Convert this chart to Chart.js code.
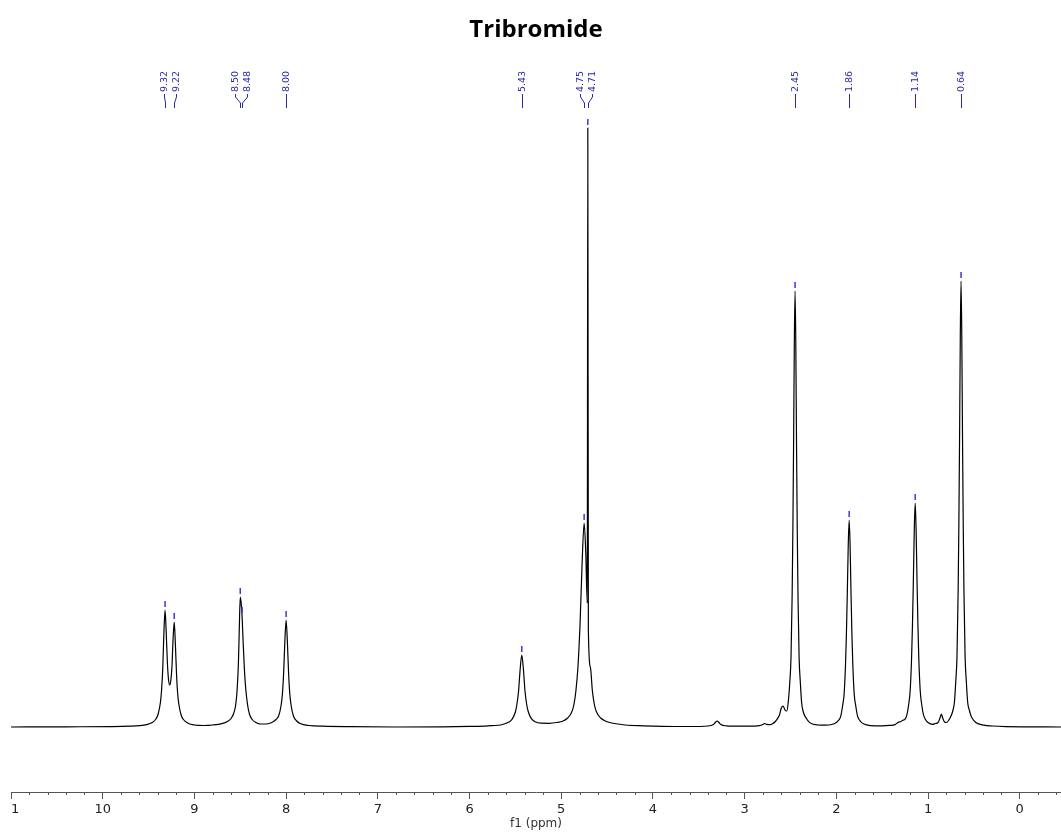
<!DOCTYPE html>
<html>
<head>
<meta charset="utf-8">
<title>Tribromide</title>
<script src="https://cdn.jsdelivr.net/npm/chart.js@4"></script>
<style>
  html, body { margin: 0; padding: 0; background: #fff; overflow: hidden; }
  #spectrum { position: absolute; left: 11px; top: 0; }
</style>
</head>
<body>
<canvas id="spectrum" width="1050" height="834"></canvas>
<script>
/* Spectrum trace: chemical shift (ppm) and intensity */
const shiftPpm = [
  11.0, 10.4, 9.9, 9.7, 9.6, 9.52, 9.46, 9.42, 9.395, 9.37, 9.358, 9.345, 9.333, 9.32, 9.308, 9.295, 9.283, 9.27, 9.258, 9.245, 9.233, 9.22, 9.208, 9.195, 9.183, 9.17, 9.145, 9.12, 9.07, 9.0, 8.9,
  8.8, 8.7, 8.64, 8.6, 8.57, 8.55, 8.535, 8.52, 8.51, 8.5, 8.49, 8.48, 8.47, 8.455, 8.44, 8.42, 8.4, 8.37, 8.33, 8.28, 8.22,
  8.17, 8.13, 8.11, 8.08, 8.054, 8.04, 8.027, 8.0135, 8.0, 7.9865, 7.973, 7.96, 7.946, 7.92, 7.89, 7.84, 7.75, 7.6, 7.3, 6.8,
  6.3, 6.0, 5.8, 5.64, 5.57, 5.535, 5.5, 5.4825, 5.465, 5.4475, 5.43, 5.4125, 5.395, 5.3775, 5.36, 5.325, 5.29, 5.22, 5.13,
  5.05, 4.98, 4.93, 4.885, 4.8625, 4.84, 4.8175, 4.795, 4.7725, 4.75, 4.7325, 4.716, 4.71, 4.704, 4.6825, 4.66, 4.6375, 4.615, 4.57, 4.52, 4.45, 4.3, 4.1, 3.9,
  3.6, 3.4, 3.34, 3.32, 3.3, 3.28, 3.26, 3.2, 3.05, 2.9, 2.84, 2.8, 2.78, 2.76, 2.72,
  2.7, 2.66, 2.62, 2.6, 2.58, 2.56, 2.54, 2.522, 2.508, 2.494, 2.482, 2.474, 2.466, 2.458, 2.45, 2.442, 2.434, 2.426, 2.418, 2.406, 2.392, 2.378, 2.36, 2.33, 2.29, 2.2, 2.12, 2.05,
  2.0, 1.97, 1.95, 1.932, 1.915, 1.9, 1.89, 1.88, 1.87, 1.86, 1.85, 1.84, 1.83, 1.82, 1.805, 1.788, 1.77, 1.75, 1.72, 1.67, 1.58, 1.5, 1.42, 1.36,
  1.32, 1.3, 1.28, 1.25, 1.23, 1.212, 1.195, 1.18, 1.17, 1.16, 1.15, 1.14, 1.13, 1.12, 1.11, 1.1, 1.085, 1.068, 1.05, 1.03, 1.0, 0.95, 0.92,
  0.89, 0.87, 0.855, 0.84, 0.82, 0.8, 0.76, 0.73, 0.712, 0.698, 0.684, 0.672, 0.664, 0.656, 0.648, 0.64, 0.632, 0.624, 0.616, 0.608, 0.596, 0.582, 0.568, 0.55, 0.535, 0.52, 0.48, 0.39, 0.3, 0.15, -0.45
];
const intensity = [
  0, 0.2, 0.4, 0.8, 1.3, 2.4, 4.5, 8, 13, 25, 37, 59, 93, 117, 96, 65, 48, 42, 46, 60, 87, 105, 84, 53, 34, 23, 12, 7.5, 3.8, 2, 1.5,
  2, 3.4, 5.5, 8.5, 14, 22, 36, 64, 100, 130, 124, 111, 88, 58, 38, 22, 13, 7.5, 4.5, 3, 3,
  4, 6, 7.5, 11.5, 22, 33.5, 54, 86, 107, 86, 54, 33.5, 22, 11, 6.5, 3.2, 1.5, 0.8, 0.3, 0,
  0.2, 0.6, 1.2, 2.5, 4.9, 7.9, 15, 23, 36, 58, 72, 58, 36, 23, 15.5, 8.3, 5.6, 3.8, 3.7,
  4.5, 6, 9, 15, 22, 36, 60, 102, 163, 204, 175, 124, 599, 97, 60, 36, 22, 15, 9, 6, 4, 2, 1.2, 0.7,
  0.5, 1, 2.5, 4.5, 6, 4.5, 2.5, 1.2, 0.8, 0.9, 1.3, 2.5, 3.5, 2.6, 2.4,
  3, 6, 12, 19, 21, 17, 16, 27, 44, 70, 131, 196, 283, 384, 436, 384, 283, 196, 131, 70, 44, 24, 15, 9, 4.4, 2, 1.8, 2.5,
  4.6, 7.2, 11.4, 21, 33, 62, 93, 135, 182, 207, 182, 135, 93, 62, 33, 21, 11.4, 7.2, 4.1, 2.1, 1.2, 1.2, 1.6, 2.4,
  4.9, 5.2, 6.5, 7.8, 12.3, 22, 36, 67, 101, 146, 197, 224, 197, 146, 101, 67, 36, 22, 12.3, 7.8, 4.5, 2.6, 3.5,
  4.5, 9, 13, 9, 5, 4.5, 9, 16, 25, 45, 71, 134, 200, 290, 392, 446, 392, 290, 200, 134, 71, 45, 25, 17, 12, 9, 4.5, 1.8, 1, 0.4, 0
];

/* Picked peaks (labels along the top) */
const peakShifts = [9.32, 9.22, 8.50, 8.48, 8.00, 5.43, 4.75, 4.71, 2.45, 1.86, 1.14, 0.64];

/* Axis range */
const axisMax = 11.0;
const axisMin = -0.45;
const minorStep = 0.2;

const labelColor = "#2a2aa6";

// peak picking labels + small markers over each peak top
const peakLabelPlugin = {
  id: "peakLabels",
  afterDatasetsDraw(chart) {
    const { ctx, scales } = chart;
    const x = scales.x;
    const y = scales.y;
    const px = peakShifts.map((p) => x.getPixelForValue(p));

    // spread labels that sit too close together
    const lx = px.slice();
    for (let i = 0; i < px.length - 1; i++) {
      if (px[i + 1] - px[i] < 12) {
        const c = (px[i] + px[i + 1]) / 2;
        lx[i] = c - 6;
        lx[i + 1] = c + 6;
      }
    }

    ctx.save();
    ctx.strokeStyle = labelColor;
    ctx.fillStyle = labelColor;
    ctx.lineWidth = 1;
    ctx.font = '9.5px "DejaVu Sans"';
    peakShifts.forEach((p, i) => {
      const a = Math.round(lx[i]) + 0.5;
      const b = Math.round(px[i]) + 0.5;
      ctx.beginPath();
      ctx.moveTo(a, 94);
      if (a !== b) {
        ctx.lineTo(a, 97);
        ctx.lineTo(b, 103);
      }
      ctx.lineTo(b, 108);
      ctx.stroke();

      ctx.save();
      ctx.translate(a, 92);
      ctx.rotate(-Math.PI / 2);
      ctx.textAlign = "left";
      ctx.textBaseline = "middle";
      ctx.fillText(p.toFixed(2), 0, 0);
      ctx.restore();

      // marker above the peak
      const idx = shiftPpm.indexOf(p);
      const top = y.getPixelForValue(intensity[idx]);
      ctx.lineWidth = 1.5;
      ctx.strokeStyle = "#3b3bd0";
      ctx.beginPath();
      ctx.moveTo(px[i], top - 9);
      ctx.lineTo(px[i], top - 3);
      ctx.stroke();
      ctx.lineWidth = 1;
      ctx.strokeStyle = labelColor;
    });
    ctx.restore();
  },
  afterDraw(chart) {
    // minor ticks between the numbered ones
    const { ctx } = chart;
    const x = chart.scales.x;
    const n = Math.round((axisMax - axisMin) / minorStep);
    ctx.save();
    ctx.strokeStyle = "#555";
    ctx.lineWidth = 1;
    for (let i = 0; i <= n; i++) {
      const v = Math.round((axisMax - i * minorStep) * 10) / 10;
      if (v < axisMin || Math.abs(v - Math.round(v)) < 1e-6) continue;
      const xp = Math.round(x.getPixelForValue(v)) + 0.5;
      ctx.beginPath();
      ctx.moveTo(xp, x.top);
      ctx.lineTo(xp, x.top + 3);
      ctx.stroke();
    }
    ctx.restore();
  },
};

const ctx = document.getElementById("spectrum").getContext("2d");

new Chart(ctx, {
  type: "line",
  data: {
    datasets: [
      {
        data: shiftPpm.map((p, i) => ({ x: p, y: intensity[i] })),
        borderColor: "#000",
        borderWidth: 1.2,
        pointRadius: 0,
        fill: false,
        cubicInterpolationMode: "monotone",
      },
    ],
  },
  options: {
    responsive: false,
    animation: false,
    devicePixelRatio: 1,
    layout: { padding: { top: 0, left: 0, right: 0, bottom: 0 } },
    plugins: {
      legend: { display: false },
      tooltip: { enabled: false },
      title: {
        display: true,
        text: "Tribromide",
        color: "#000",
        font: { family: "Open Sans", size: 24, weight: "bold", lineHeight: 1.2 },
        padding: { top: 15.6, bottom: 75.6 },
      },
    },
    scales: {
      x: {
        type: "linear",
        reverse: true,
        min: axisMin,
        max: axisMax,
        afterFit(scale) {
          scale.paddingLeft = 0;
          scale.paddingRight = 0;
          scale.height = 42;
        },
        ticks: {
          stepSize: 1,
          includeBounds: false,
          autoSkip: false,
          maxRotation: 0,
          padding: 4,
          color: "#222",
          font: { family: "DejaVu Sans", size: 13, lineHeight: 1 },
          callback: (v) => `${Math.round(v) || 0}`,
        },
        grid: {
          drawOnChartArea: false,
          drawTicks: true,
          tickLength: 7,
          color: "#555",
        },
        border: { display: true, color: "#555" },
        title: {
          display: true,
          text: "f1 (ppm)",
          color: "#333",
          font: { family: "DejaVu Sans", size: 12, lineHeight: 1.2 },
          padding: { top: 0, bottom: 3 },
        },
      },
      y: { display: false, min: -65, max: 607 },
    },
  },
  plugins: [peakLabelPlugin],
});
</script>
</body>
</html>
